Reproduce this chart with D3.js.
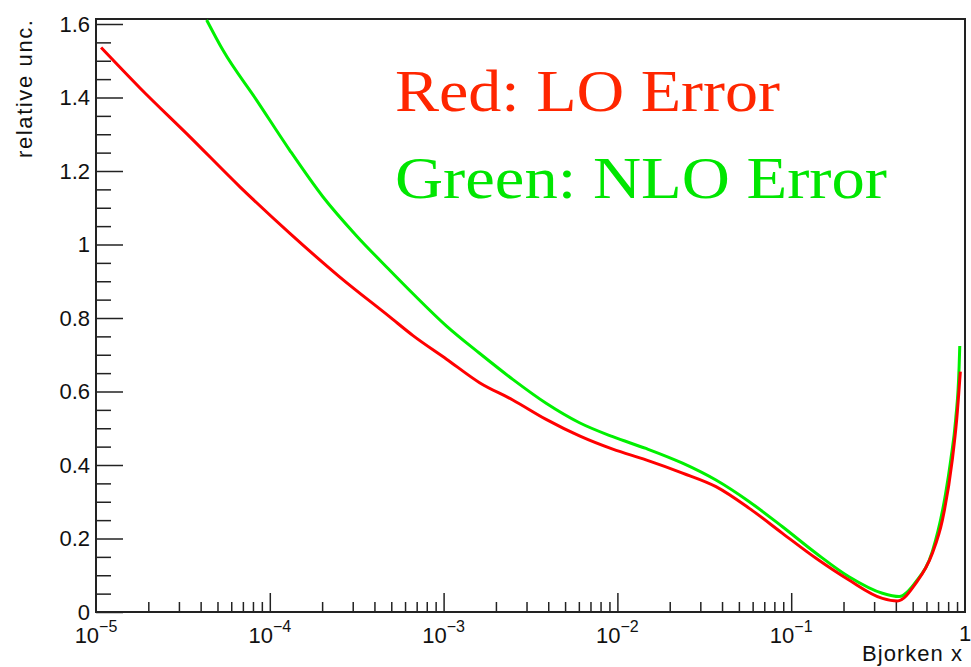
<!DOCTYPE html>
<html>
<head>
<meta charset="utf-8">
<script src="https://cdn.jsdelivr.net/npm/d3@7"></script>
<style>
  body { margin: 0; background: #fff; }
  svg { display: block; }
  .tick-lbl { font-family: "Liberation Sans", Arial, sans-serif; font-size: 22px; fill: #111; }
</style>
</head>
<body>
<div id="viz"></div>
<script>
// values
const xRed = [1.07e-5, 1.79e-5, 3.47e-5, 6.73e-5, 1.30e-4, 2.52e-4, 4.90e-4, 6.67e-4,
  1.04e-3, 1.61e-3, 2.50e-3, 3.89e-3, 6.05e-3, 9.40e-3, 1.46e-2, 2.37e-2, 3.69e-2,
  5.74e-2, 8.91e-2, 0.139, 0.215, 0.335, 0.408, 0.521, 0.649, 0.741, 0.845, 0.895, 0.940];
const yRed = [1.536, 1.426, 1.293, 1.157, 1.031, 0.912, 0.803, 0.752,
  0.688, 0.624, 0.577, 0.524, 0.479, 0.443, 0.414, 0.378, 0.341,
  0.282, 0.214, 0.146, 0.087, 0.037, 0.030, 0.078, 0.160, 0.250, 0.414, 0.522, 0.654];

const xGreen = [4.33e-5, 5.37e-5, 8.39e-5, 1.30e-4, 2.02e-4, 3.15e-4, 4.90e-4, 6.67e-4,
  1.04e-3, 1.61e-3, 2.50e-3, 3.89e-3, 6.05e-3, 9.40e-3, 1.46e-2, 2.37e-2, 3.69e-2,
  5.74e-2, 8.91e-2, 0.139, 0.215, 0.335, 0.418, 0.521, 0.649, 0.774, 0.828, 0.883, 0.925, 0.933];
const yGreen = [1.611, 1.529, 1.393, 1.257, 1.130, 1.024, 0.930, 0.866,
  0.778, 0.704, 0.633, 0.568, 0.515, 0.477, 0.445, 0.405, 0.359,
  0.300, 0.232, 0.160, 0.096, 0.051, 0.042, 0.082, 0.165, 0.323, 0.414, 0.522, 0.667, 0.724];

const xDecades = [-5, -4, -3, -2, -1, 0];
const yTicks = [0, 0.2, 0.4, 0.6, 0.8, 1, 1.2, 1.4, 1.6];
const legendLines = ['Red: LO Error', 'Green: NLO Error'];

const width = 971, height = 667;
const frame = { left: 96, right: 965, top: 19, bottom: 612 };

const svg = d3.select('#viz').append('svg')
  .attr('width', width)
  .attr('height', height);

const xScale = d3.scaleLog()
  .domain([1e-5, 1])
  .range([frame.left, frame.right]);

const yScale = d3.scaleLinear()
  .domain([0, 1.6136])
  .range([frame.bottom, frame.top]);

// log minor ticks 2..9 in every decade
const minorX = [];
xDecades.slice(0, -1).forEach(e => {
  for (let k = 2; k <= 9; k++) minorX.push(k * Math.pow(10, e));
});
const majorX = xDecades.map(e => Math.pow(10, e));

const minorY = d3.range(0, 1.6001, 0.05).filter(v => Math.abs(v * 5 - Math.round(v * 5)) > 1e-6);

const axisStyle = g => {
  g.select('.domain').remove();
  g.selectAll('.tick line').attr('stroke', '#222').attr('stroke-width', 1.5);
  g.selectAll('.tick text').remove();
};

svg.append('g')
  .attr('transform', 'translate(0,' + frame.bottom + ')')
  .call(d3.axisBottom(xScale).tickValues(minorX).tickSizeInner(-10).tickSizeOuter(0).tickFormat(''))
  .call(axisStyle);

svg.append('g')
  .attr('transform', 'translate(0,' + frame.bottom + ')')
  .call(d3.axisBottom(xScale).tickValues(majorX.slice(1, -1)).tickSizeInner(-19).tickSizeOuter(0).tickFormat(''))
  .call(axisStyle);

svg.append('g')
  .attr('transform', 'translate(' + frame.left + ',0)')
  .call(d3.axisLeft(yScale).tickValues(minorY).tickSizeInner(-15).tickSizeOuter(0).tickFormat(''))
  .call(axisStyle);

svg.append('g')
  .attr('transform', 'translate(' + frame.left + ',0)')
  .call(d3.axisLeft(yScale).tickValues(yTicks).tickSizeInner(-27).tickSizeOuter(0).tickFormat(''))
  .call(axisStyle);

// y labels
svg.append('g').selectAll('text')
  .data(yTicks)
  .enter()
  .append('text')
  .attr('class', 'tick-lbl')
  .attr('x', 90)
  .attr('y', d => yScale(d))
  .attr('dy', '0.36em')
  .attr('text-anchor', 'end')
  .text(d => String(+d.toFixed(1)));

// x labels, 10^n with superscript
const xl = svg.append('g').selectAll('text')
  .data(xDecades)
  .enter()
  .append('text')
  .attr('class', 'tick-lbl')
  .attr('x', d => xScale(Math.pow(10, d)))
  .attr('y', 643)
  .attr('text-anchor', 'middle');

xl.each(function (d) {
  const t = d3.select(this);
  if (d === 0) {
    t.attr('y', 641).attr('font-size', 20).text('1');
    return;
  }
  t.append('tspan').text('10');
  t.append('tspan').attr('dy', -11).attr('font-size', 16).text('\u2212' + Math.abs(d));
});

// frame
svg.append('rect')
  .attr('x', frame.left)
  .attr('y', frame.top)
  .attr('width', frame.right - frame.left)
  .attr('height', frame.bottom - frame.top)
  .attr('fill', 'none')
  .attr('stroke', '#222')
  .attr('stroke-width', 2);

// curves
svg.append('clipPath').attr('id', 'clip')
  .append('rect')
  .attr('x', frame.left).attr('y', frame.top)
  .attr('width', frame.right - frame.left).attr('height', frame.bottom - frame.top);

const line = d3.line()
  .x(d => xScale(d[0]))
  .y(d => yScale(d[1]))
  .curve(d3.curveMonotoneX);

const series = [
  { xs: xGreen, ys: yGreen, color: '#00f000' },
  { xs: xRed, ys: yRed, color: '#ff0000' }
];

svg.append('g')
  .attr('clip-path', 'url(#clip)')
  .selectAll('path')
  .data(series)
  .enter()
  .append('path')
  .attr('fill', 'none')
  .attr('stroke', d => d.color)
  .attr('stroke-width', 3)
  .attr('d', d => line(d.xs.map((x, i) => [x, d.ys[i]])));

// axis titles
svg.append('text')
  .attr('class', 'tick-lbl')
  .attr('transform', 'translate(32,20) rotate(-90)')
  .attr('text-anchor', 'end')
  .attr('textLength', 138)
  .text('relative unc.');

svg.append('text')
  .attr('class', 'tick-lbl')
  .attr('x', 962)
  .attr('y', 661)
  .attr('font-size', 22)
  .attr('text-anchor', 'end')
  .attr('textLength', 100)
  .text('Bjorken x');

// legend text
const legendColors = ['#ff2600', '#00e600'];
const legendWidths = [385, 492];
svg.append('g').selectAll('text')
  .data(legendLines)
  .enter()
  .append('text')
  .attr('x', 395)
  .attr('y', (d, i) => 111 + i * 87)
  .attr('font-family', '"Liberation Serif", "Times New Roman", serif')
  .attr('font-size', 60)
  .attr('fill', (d, i) => legendColors[i])
  .attr('textLength', (d, i) => legendWidths[i])
  .attr('lengthAdjust', 'spacingAndGlyphs')
  .text(d => d);
</script>
</body>
</html>
